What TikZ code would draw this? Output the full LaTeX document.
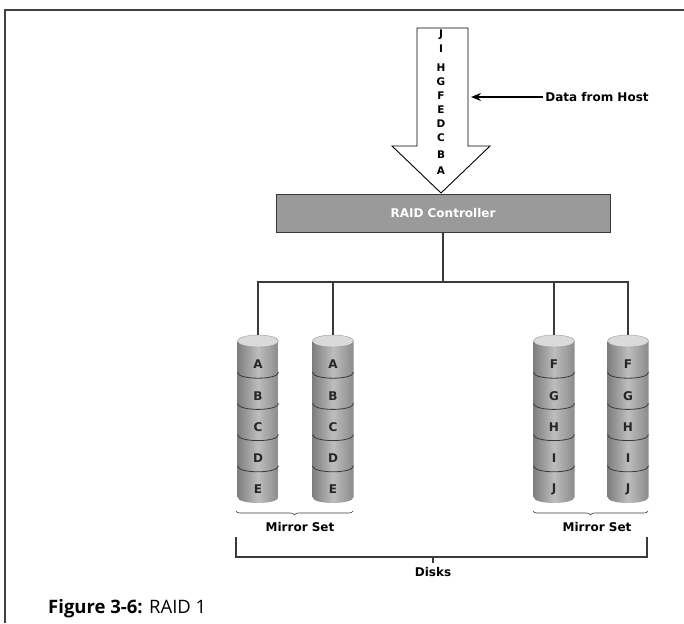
\documentclass[tikz,border=0pt]{standalone}
\usepackage{fontspec}
\setmainfont{DejaVu Sans}
\newfontfamily\captionfont{Open Sans}
\usetikzlibrary{arrows.meta,decorations.pathreplacing}

\definecolor{ctrlgray}{HTML}{9A9A9A}
\definecolor{diskdark}{HTML}{7E7E7E}
\definecolor{disklight}{HTML}{BDBDBD}
\definecolor{disktop}{HTML}{DADADA}
\definecolor{linegray}{HTML}{3A3A3A}

\tikzset{
  lbl/.style={font=\bfseries\fontsize{12}{13}\selectfont, inner sep=0pt},
  flowlbl/.style={font=\bfseries\fontsize{10.5}{11}\selectfont, inner sep=0pt},
  wire/.style={draw=linegray, line width=1.1pt},
  ctrlbox/.style={draw=linegray, fill=ctrlgray, line width=0.8pt,
    minimum width=334pt, minimum height=38pt,
    text=white, font=\bfseries\fontsize{12}{13}\selectfont},
  bracestyle/.style={draw=linegray, line width=0.6pt,
    decorate, decoration={brace, mirror, amplitude=4pt}},
}

% one mirrored disk: #1 = x of its axis, #2 = list of five block letters
\newcommand\diskstack[2]{%
  \begin{scope}[shift={(#1,0)}]
    \shade[left color=diskdark, right color=diskdark!90, middle color=disklight]
      (-20.5,341) -- (-20.5,497) .. controls (-20.5,505) and (20.5,505) .. (20.5,497)
      -- (20.5,341) -- cycle;
    \foreach \k in {1,...,4}
      \draw[linegray, line width=0.8pt]
        (-20.5,341+31.2*\k) .. controls (-20.5,349+31.2*\k) and (20.5,349+31.2*\k) .. (20.5,341+31.2*\k);
    \fill[disktop, draw=gray!80, line width=0.4pt] (0,341) ellipse [x radius=20.5, y radius=6];
    \foreach \t [count=\k from 0] in {#2}
      \node[lbl, text=black!85] at (0,364.5+31.2*\k) {\t};
  \end{scope}}

\begin{document}
\begin{tikzpicture}[x=1pt, y=-1pt]
\useasboundingbox (0,0) rectangle (684,623);

% page frame
\draw[line width=1.1pt, black!75] (5,623) -- (5,10) -- (684,10);

% wide data arrow from the host
\draw[fill=white, line width=0.9pt]
  (417,28) -- (468,28) -- (468,146) -- (490,146) -- (441,193) -- (392,146) -- (417,146) -- cycle;
\foreach \t/\y in {J/35,I/49,H/68,G/82,F/96,E/110,D/124,C/138,B/155,A/171}
  \node[flowlbl] at (441,\y) {\t};

\node[lbl] (host) at (597,97) {Data from Host};
\coordinate (hostTip) at (471,97);
\draw[line width=1.1pt, -{Stealth[length=10pt, width=8pt]}] (host.west) ++(-2,0) -- (hostTip);

% controller
\node[ctrlbox] (ctrl) at (443,213) {RAID Controller};

% disks
\diskstack{258}{A,B,C,D,E}
\diskstack{333}{A,B,C,D,E}
\diskstack{554}{F,G,H,I,J}
\diskstack{628}{F,G,H,I,J}

\coordinate (d1) at (258,335);
\coordinate (d2) at (333,335);
\coordinate (d3) at (554,335);
\coordinate (d4) at (628,335);
\coordinate (bus) at (443,282);

\draw[wire] (ctrl.south) -- (bus);
\draw[wire] (d1) -- (d1 |- bus) -- (d4 |- bus) -- (d4);
\draw[wire] (d2) -- (d2 |- bus);
\draw[wire] (d3) -- (d3 |- bus);

% mirror sets
\draw[bracestyle] (236,511) -- (353,511);
\node[lbl] (ms1) at (300,527) {Mirror Set};
\draw[bracestyle] (533,511) -- (648,511);
\node[lbl] (ms2) at (597,527) {Mirror Set};

% all disks
\draw[linegray, line width=1.6pt] (236,537) -- (236,557) -- (647,557) -- (647,537);
\draw[linegray, line width=1.6pt] (433,557) -- (433,563);
\node[lbl] (disks) at (433,572) {Disks};

% caption
\node[anchor=base west, inner sep=0pt, font=\captionfont\fontsize{18.5}{20}\selectfont]
  (cap) at (48,613) {\textbf{Figure 3-6:} RAID 1};
\end{tikzpicture}
\end{document}
